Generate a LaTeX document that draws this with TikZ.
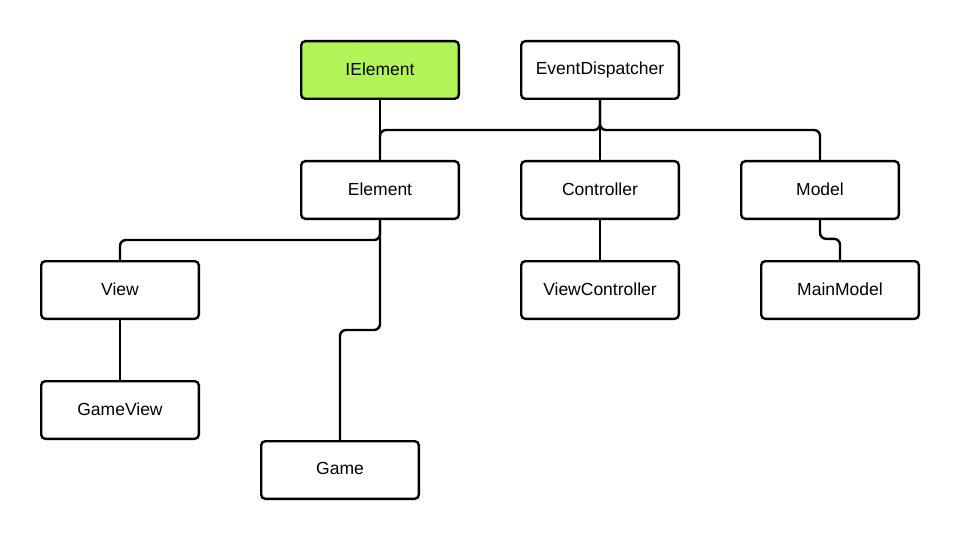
\documentclass[tikz,border=0pt]{standalone}
\usepackage{fontspec}
\setmainfont{Liberation Sans}
\newcommand{\lbltxt}[1]{\raisebox{2.5pt}{#1}}
\begin{document}
\begin{tikzpicture}[x=1pt,y=-1pt,
  cls/.style={draw=black,line width=2.4pt,rounded corners=4pt,fill=white,
    minimum width=157.6pt,minimum height=57.6pt,inner sep=0pt,
    font=\fontsize{17.5}{20}\selectfont},
  link/.style={draw=black,line width=2.4pt,rounded corners=6pt}]
\useasboundingbox[fill=white] (0,0) rectangle (960,540);
\node[cls,fill={rgb,255:red,178;green,244;blue,88}] (ie) at (380,70) {\lbltxt{IElement}};
\node[cls] (ed) at (600,70) {\lbltxt{EventDispatcher}};
\node[cls] (el) at (380,190) {\lbltxt{Element}};
\node[cls] (co) at (600,190) {\lbltxt{Controller}};
\node[cls] (mo) at (820,190) {\lbltxt{Model}};
\node[cls] (vi) at (120,290) {\lbltxt{View}};
\node[cls] (vc) at (600,290) {\lbltxt{ViewController}};
\node[cls] (mm) at (840,290) {\lbltxt{MainModel}};
\node[cls] (gv) at (120,410) {\lbltxt{GameView}};
\node[cls] (ga) at (340,470) {\lbltxt{Game}};
\draw[link] (ie.south) -- (el.north);
\draw[link] (ed.south) -- (co.north);
\draw[link] (ed.south) -- ++(0,30) -| (el.north);
\draw[link] (ed.south) -- ++(0,30) -| (mo.north);
\draw[link] (el.south) -- ++(0,20) -| (vi.north);
\draw[link] (el.south) -- ++(0,110) -| (ga.north);
\draw[link] (vi.south) -- (gv.north);
\draw[link] (co.south) -- (vc.north);
\draw[link] (mo.south) -- ++(0,18.8) -| (mm.north);
\end{tikzpicture}
\end{document}
